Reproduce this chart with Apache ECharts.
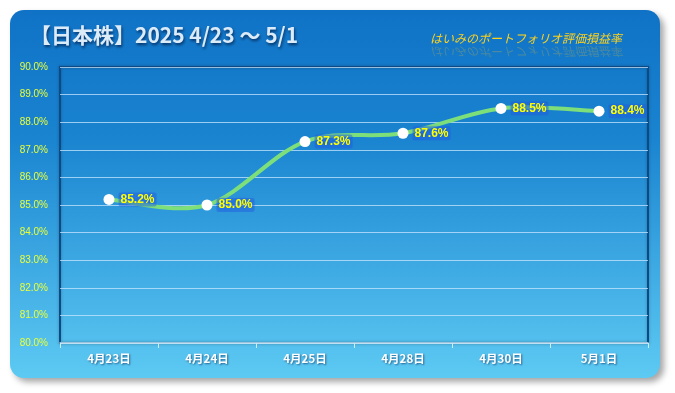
<!DOCTYPE html>
<html><head><meta charset="utf-8">
<script src="https://cdn.jsdelivr.net/npm/echarts@6/dist/echarts.min.js"></script>
<style>html,body{margin:0;padding:0;background:#fff}#c{width:675px;height:393px}</style>
</head><body><div id="c"></div>
<script>
const categories = ['4月23日','4月24日','4月25日','4月28日','4月30日','5月1日'];
const values = [85.2, 85.0, 87.3, 87.6, 88.5, 88.4];
const yMin = 80, yMax = 90, yStep = 1;
const titleText = '【日本株】2025 4/23 〜 5/1';
const subTitleText = 'はいみのポートフォリオ評価損益率';

// Smooth (Catmull-Rom style) curve through the library-projected data points
function renderCurve(params, api) {
  if (params.dataIndex !== 0) return null;
  const P = values.map((v, i) => api.coord([i, v]));
  const n = P.length;
  const T = P.map((p, i) => {
    const a = P[Math.max(0, i - 1)], b = P[Math.min(n - 1, i + 1)];
    return [(b[0] - a[0]) / 6, (b[1] - a[1]) / 6];
  });
  const children = [];
  for (let i = 0; i < n - 1; i++) {
    children.push({
      type: 'bezierCurve',
      shape: { x1: P[i][0], y1: P[i][1], cpx1: P[i][0] + T[i][0], cpy1: P[i][1] + T[i][1],
               cpx2: P[i+1][0] - T[i+1][0], cpy2: P[i+1][1] - T[i+1][1], x2: P[i+1][0], y2: P[i+1][1] },
      style: { stroke: '#7DDF7A', lineWidth: 4, fill: null, lineCap: 'round' }
    });
  }
  return { type: 'group', children };
}

const chart = echarts.init(document.getElementById('c'));
chart.setOption({
  animation: false,
  graphic: [
    { type: 'rect', z: -10, shape: { x: 10, y: 10, width: 650, height: 368, r: 14 },
      style: { fill: new echarts.graphic.LinearGradient(0,0,0,1,[{offset:0,color:'#0F72C6'},{offset:0.35,color:'#1A84D0'},{offset:1,color:'#5DCAF3'}]),
        shadowBlur: 6, shadowOffsetX: 4, shadowOffsetY: 4, shadowColor: 'rgba(0,0,0,0.35)' } },
    { type: 'text', left: 30, top: 25, z: 10,
      style: { text: titleText, fill: '#DCEBF8', font: 'bold 21px "Noto Sans CJK JP"',
        textShadowColor: 'rgba(0,20,60,0.7)', textShadowBlur: 3, textShadowOffsetX: 1, textShadowOffsetY: 2 } },
    { type: 'text', x: 430, y: 32, z: 10,
      style: { text: subTitleText, fill: '#FFD21C', font: 'italic 12px "Noto Sans CJK JP"' } },
    { type: 'text', x: 430, y: 58, scaleY: -1, z: 9,
      style: { text: subTitleText, fill: 'rgba(240,190,40,0.25)', font: 'italic 12px "Noto Sans CJK JP"' } }
  ],
  grid: { left: 60, top: 67, width: 588, height: 276, show: true, borderColor: '#0B4A85', borderWidth: 2,
    backgroundColor: 'transparent', shadowColor: 'rgba(0,0,0,0.3)', shadowBlur: 3 },
  xAxis: {
    type: 'category', data: categories, boundaryGap: true,
    axisLine: { show: true, lineStyle: { color: '#CDEBFA', width: 1.5 } },
    axisTick: { show: true, length: 5, lineStyle: { color: '#CDEBFA' } },
    axisLabel: { color: '#FFFFFF', fontSize: 11.5, fontWeight: 'bold', fontFamily: 'Noto Sans CJK JP', margin: 10,
      textShadowColor: 'rgba(0,30,80,0.6)', textShadowBlur: 2, textShadowOffsetX: 1, textShadowOffsetY: 1 }
  },
  yAxis: {
    type: 'value', min: yMin, max: yMax, interval: yStep,
    axisLine: { show: false }, axisTick: { show: false },
    splitLine: { lineStyle: { color: 'rgba(200,230,255,0.75)', width: 1 } },
    axisLabel: { color: '#E8FF3A', fontSize: 10, fontFamily: 'Liberation Sans', margin: 12,
      formatter: v => v.toFixed(1) + '%' }
  },
  series: [{
    type: 'custom', coordinateSystem: 'cartesian2d', z: 1,
    data: values.map((v, i) => [i, v]),
    renderItem: renderCurve, silent: true
  }, {
    type: 'line', data: values, z: 3,
    lineStyle: { width: 0, opacity: 0 },
    symbol: 'circle', symbolSize: 11,
    itemStyle: { color: '#FFFFFF', borderWidth: 0 },
    label: { show: true, position: 'right', distance: 4, color: '#FFFF00', fontSize: 12, fontWeight: 'bold',
      fontFamily: 'Liberation Sans', formatter: p => p.value.toFixed(1) + '%',
      backgroundColor: 'rgba(30,90,225,0.45)', padding: [1, 2], borderRadius: 2,
      textShadowColor: '#1E5BE8', textShadowBlur: 5 }
  }]
});
</script></body></html>
